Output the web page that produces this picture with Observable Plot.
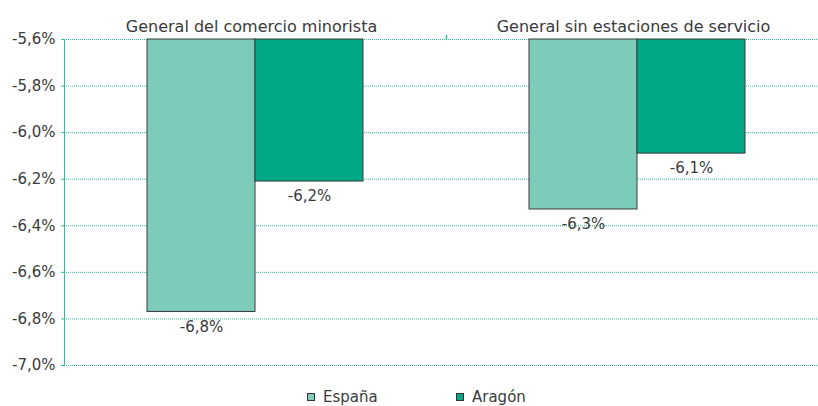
<!DOCTYPE html>
<html>
<head>
<meta charset="utf-8">
<script src="https://cdn.jsdelivr.net/npm/d3@7"></script>
<script src="https://cdn.jsdelivr.net/npm/@observablehq/plot@0.6"></script>
<style>
  body { margin: 0; background: white; font-family: "DejaVu Sans", sans-serif; }
  #legend { position: relative; height: 26px; color: #3a3a3a; font-size: 15px; }
  .item { position: absolute; top: 8px; display: flex; align-items: center; }
  .sw { width: 6px; height: 6px; border: 1px solid #333; margin-right: 8px; }
</style>
</head>
<body>
<div id="chart"></div>
<div id="legend"></div>
<script>
const categories = ["General del comercio minorista", "General sin estaciones de servicio"];
const series = ["España", "Aragón"];
const espana = [-6.77, -6.33];
const aragon = [-6.21, -6.09];
const yTicks = [-7.0, -6.8, -6.6, -6.4, -6.2, -6.0, -5.8, -5.6];
const colors = ["#7dcbb9", "#00a886"];

const teal = "#2fbf9c";
const yBase = yTicks[yTicks.length - 1];
const fmt = v => v.toFixed(1).replace(".", ",") + "%";

const table = categories.flatMap((c, i) => [
  {category: c, series: series[0], value: espana[i]},
  {category: c, series: series[1], value: aragon[i]}
]);

const boundaryTick = {
  draw(context, l) { context.moveTo(0, 0); context.lineTo(0, -l); }
};

const chart = Plot.plot({
  width: 818,
  height: 380,
  marginLeft: 64,
  marginRight: -10,
  marginTop: 39,
  marginBottom: 15,
  style: {fontFamily: "DejaVu Sans, sans-serif", fontSize: "15px", color: "#3a3a3a", background: "white"},
  fx: {domain: categories, padding: 0, axis: null},
  x: {domain: series, paddingInner: 0, paddingOuter: 0.76, axis: null},
  y: {domain: [yTicks[0], yBase], axis: null},
  color: {domain: series, range: colors},
  marks: [
    Plot.ruleY(yTicks, {stroke: teal, strokeDasharray: "1,1", strokeWidth: 1}),
    Plot.frame({anchor: "left", stroke: teal, strokeDasharray: "1,1", facetAnchor: "left"}),
    Plot.vector([categories[0]], {fx: d => d, frameAnchor: "top-right", length: 4, rotate: 0, anchor: "start", shape: boundaryTick, stroke: teal}),
    Plot.axisY(yTicks, {tickFormat: fmt, tickSize: 3, tickPadding: 6, stroke: teal, fill: "#3a3a3a", label: null, fontSize: 15}),
    Plot.barY(table, {fx: "category", x: "series", y1: () => yBase, y2: "value", fill: "series", stroke: "#3a3a3a", strokeWidth: 1}),
    Plot.text(table, {fx: "category", x: "series", y: "value", text: d => fmt(d.value), dy: 15, fill: "#3a3a3a", fontSize: 15}),
    Plot.text(categories, {fx: d => d, text: d => d, frameAnchor: "top", dy: -19, dx: -4, fill: "#3a3a3a", fontSize: 16})
  ]
});
document.getElementById("chart").appendChild(chart);

const legend = document.getElementById("legend");
const lefts = [307, 456];
series.forEach((s, i) => {
  const item = document.createElement("div");
  item.className = "item";
  item.style.left = lefts[i] + "px";
  const sw = document.createElement("div");
  sw.className = "sw";
  sw.style.background = colors[i];
  const t = document.createElement("span");
  t.textContent = s;
  item.appendChild(sw);
  item.appendChild(t);
  legend.appendChild(item);
});
</script>
</body>
</html>
